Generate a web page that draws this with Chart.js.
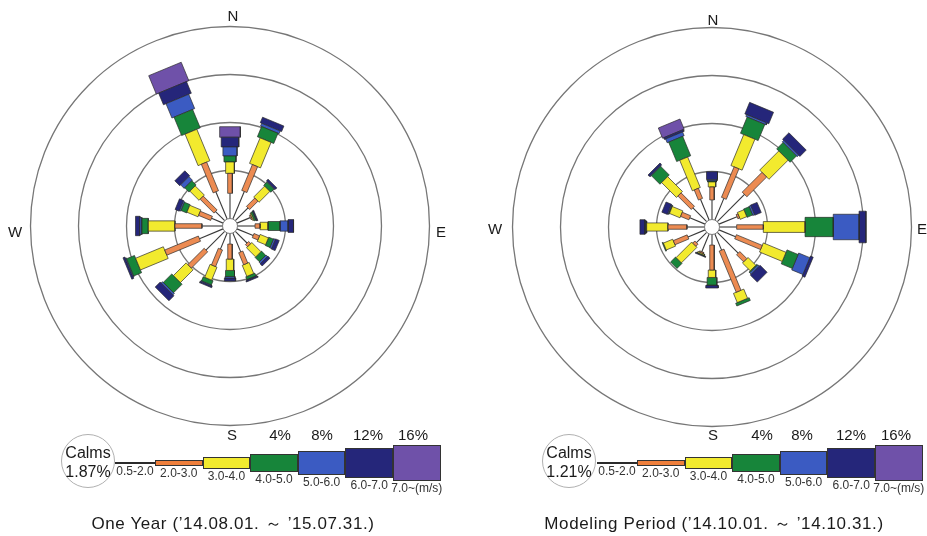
<!DOCTYPE html>
<html>
<head>
<meta charset="utf-8">
<script src="https://cdn.jsdelivr.net/npm/chart.js@4.4.1/dist/chart.umd.min.js"></script>
<style>
  body { margin: 0; background: #fff; font-family: "Liberation Sans", Arial, Helvetica, sans-serif; }
  #page { position: relative; width: 927px; height: 536px; overflow: hidden; background: #fff; }
  canvas.rose { position: absolute; top: 0; }
  .lbl { position: absolute; transform: translate(-50%, -50%); white-space: nowrap; color: #1a1a1a; line-height: 1; }
  .dir, .pct { font-size: 15px; }
  .cls { font-size: 12px; color: #333; }
  .cap { font-size: 17px; letter-spacing: 0.6px; }
  .calm { position: absolute; border: 1.5px solid #b0b0b0; border-radius: 50%; box-sizing: border-box; }
  .calmtxt { font-size: 16px; }
  .lgbox { position: absolute; border: 1px solid #333; box-sizing: border-box; }
</style>
</head>
<body>
<div id="page"></div>
<script>
// 16 directions, clockwise from north
const directions = ['N','NNE','NE','ENE','E','ESE','SE','SSE','S','SSW','SW','WSW','W','WNW','NW','NNW'];
const speedClasses = ['0.5-2.0', '2.0-3.0', '3.0-4.0', '4.0-5.0', '5.0-6.0', '6.0-7.0', '7.0~(m/s)'];
const ringTicks = [4, 8, 12, 16];

// One Year ('14.08.01. ~ '15.07.31.) - frequency (%) per direction
const yearCalms = 1.87;
const year05_20 = [2.10, 2.49, 1.50, 1.20, 1.46, 1.46, 1.38, 1.71, 0.88, 1.46, 2.21, 2.13, 1.71, 1.04, 1.08, 2.46];
const year20_30 = [1.66, 2.33, 0.98, 0.10, 0.42, 0.50, 0.25, 1.08, 1.25, 1.50, 1.92, 3.04, 2.25, 1.09, 1.63, 2.58];
const year30_40 = [0.95, 2.30, 1.28, 0.10, 0.66, 0.75, 1.08, 1.00, 0.95, 1.17, 1.50, 2.50, 2.22, 1.00, 1.08, 2.84];
const year40_50 = [0.50, 0.92, 0.37, 0.15, 1.00, 0.42, 0.50, 0.25, 0.50, 0.37, 1.00, 0.71, 0.53, 0.50, 0.50, 1.66];
const year50_60 = [0.75, 0.25, 0.08, 0.05, 0.67, 0.16, 0.17, 0.05, 0.13, 0.08, 0.16, 0.08, 0.17, 0.12, 0.42, 1.29];
const year60_70 = [0.81, 0.50, 0.17, 0.10, 0.46, 0.34, 0.25, 0.12, 0.25, 0.13, 0.59, 0.17, 0.37, 0.38, 0.58, 1.05];
const year70_up = [0.88, 0, 0, 0, 0, 0, 0, 0, 0, 0, 0, 0, 0, 0, 0, 1.66];

// Modeling Period ('14.10.01. ~ '14.10.31.)
const modelCalms = 1.21;
const model05_20 = [1.63, 1.96, 3.21, 1.63, 1.43, 1.50, 2.46, 1.46, 0.88, 1.60, 1.21, 1.54, 1.46, 1.38, 1.63, 1.88];
const model20_30 = [1.08, 2.75, 2.33, 0.16, 2.22, 2.33, 0.83, 3.71, 2.08, 0.10, 0.25, 1.25, 1.58, 0.75, 1.58, 0.91];
const model30_40 = [0.42, 2.79, 2.25, 0.59, 3.48, 2.05, 0.92, 0.83, 0.62, 0.10, 1.83, 0.84, 1.78, 0.95, 1.75, 2.75];
const model40_50 = [0.08, 1.46, 0.75, 0.50, 2.35, 1.00, 0.08, 0.25, 0.63, 0.05, 0.59, 0.08, 0.06, 0.05, 1.00, 1.75];
const model50_60 = [0.12, 0.17, 0.17, 0.16, 2.15, 1.00, 0.17, 0, 0.04, 0, 0, 0, 0.08, 0.08, 0.08, 0.34];
const model60_70 = [0.65, 1.04, 0.75, 0.59, 0.58, 0.25, 0.83, 0, 0.21, 0.07, 0, 0, 0.42, 0.50, 0.17, 0.16];
const model70_up = [0, 0, 0, 0, 0, 0, 0, 0, 0, 0, 0, 0, 0, 0, 0, 0.92];

// look
const classColors = ['#2b2b2b', '#EE7F3C', '#F2EA2E', '#17853A', '#3B5BC2', '#25267A', '#6F51A9'];
const roseOrange = '#EC8B52';
const classSpread = [0, 0.11, 0.15, 0.18, 0.19, 0.21, 0.22];  // bar width per unit radius
const classMinW = [0, 4.5, 7.5, 9, 10, 11, 12];                 // px
const legendHeights = [2, 6.5, 12, 18, 23.5, 29.5, 36];
const PX = 12;          // pixels per 1 %
const CALM_R = 0.625;   // calm circle radius in % units

const panels = [
  {
    series: [year05_20, year20_30, year30_40, year40_50, year50_60, year60_70, year70_up],
    calms: yearCalms,
    caption: 'One Year (\u201914.08.01. \uFF5E \u201915.07.31.)',
    left: 0, width: 463, height: 452, cx: 230, cy: 226,
    dirPos: { N: [233, 15], W: [15, 231], E: [441, 231], S: [232, 434] },
    pctX: [280, 322, 368, 413],
    legendX: 115, calmX: 88, capX: 233
  },
  {
    series: [model05_20, model20_30, model30_40, model40_50, model50_60, model60_70, model70_up],
    calms: modelCalms,
    caption: 'Modeling Period (\u201914.10.01. \uFF5E \u201914.10.31.)',
    left: 463, width: 464, height: 452, cx: 249, cy: 227,
    dirPos: { N: [713, 19], W: [495, 228], E: [922, 228], S: [713, 434] },
    pctX: [762, 802, 851, 896],
    legendX: 597, calmX: 569, capX: 714
  }
];

const page = document.getElementById('page');

function addLabel(text, x, y, cls) {
  const s = document.createElement('span');
  s.className = 'lbl ' + cls;
  s.textContent = text;
  s.style.left = x + 'px';
  s.style.top = y + 'px';
  page.appendChild(s);
  return s;
}

// rings + calm circle, drawn through the chart scales
const roseGrid = {
  id: 'roseGrid',
  beforeDatasetsDraw(chart) {
    const { ctx, scales: { x, y } } = chart;
    const ox = x.getPixelForValue(0), oy = y.getPixelForValue(0);
    ctx.save();
    ctx.strokeStyle = '#767676';
    ctx.lineWidth = 1.3;
    ringTicks.forEach(t => {
      const r = x.getPixelForValue(CALM_R + t) - ox;
      ctx.beginPath();
      ctx.arc(ox, oy, r, 0, Math.PI * 2);
      ctx.stroke();
    });
    ctx.restore();
  },
  afterDatasetsDraw(chart) {
    const { ctx, scales: { x, y } } = chart;
    const ox = x.getPixelForValue(0), oy = y.getPixelForValue(0);
    const r = x.getPixelForValue(CALM_R) - ox;
    ctx.save();
    ctx.fillStyle = '#fff';
    ctx.strokeStyle = '#777';
    ctx.lineWidth = 1;
    ctx.beginPath();
    ctx.arc(ox, oy, r, 0, Math.PI * 2);
    ctx.fill();
    ctx.stroke();
    ctx.restore();
  }
};

function buildDatasets(series) {
  const sets = [];
  directions.forEach((d, i) => {
    const ang = i * Math.PI / 8;
    const ux = Math.sin(ang), uy = Math.cos(ang);    // along the bar
    const nx = Math.cos(ang), ny = -Math.sin(ang);   // across the bar
    let r0 = CALM_R;
    series.forEach((vals, k) => {
      const v = vals[i];
      if (!v) return;
      const r1 = r0 + v;
      if (k === 0) {
        sets.push({
          data: [{ x: r0 * ux, y: r0 * uy }, { x: r1 * ux, y: r1 * uy }],
          showLine: true, fill: false, borderColor: '#3a3a3a', borderWidth: 1.1,
          pointRadius: 0
        });
      } else {
        const h = Math.max(classSpread[k] * (r0 + r1) / 2, classMinW[k] / PX) / 2;
        const corner = (r, s) => ({ x: r * ux + s * h * nx, y: r * uy + s * h * ny });
        sets.push({
          data: [corner(r0, -1), corner(r1, -1), corner(r1, 1), corner(r0, 1), corner(r0, -1)],
          showLine: true, fill: 'shape', backgroundColor: k === 1 ? roseOrange : classColors[k],
          borderColor: 'rgba(40,40,40,0.85)', borderWidth: 0.8,
          pointRadius: 0, tension: 0
        });
      }
      r0 = r1;
    });
  });
  return sets;
}

panels.forEach(p => {
  const cv = document.createElement('canvas');
  cv.className = 'rose';
  cv.width = p.width;
  cv.height = p.height;
  cv.style.left = p.left + 'px';
  page.appendChild(cv);

  new Chart(cv.getContext('2d'), {
    type: 'scatter',
    data: { datasets: buildDatasets(p.series) },
    options: {
      responsive: false,
      animation: false,
      events: [],
      layout: { padding: 0 },
      plugins: { legend: { display: false }, tooltip: { enabled: false } },
      scales: {
        x: { type: 'linear', display: false, bounds: 'data', min: -p.cx / PX, max: (p.width - p.cx) / PX },
        y: { type: 'linear', display: false, bounds: 'data', min: -(p.height - p.cy) / PX, max: p.cy / PX }
      }
    },
    plugins: [roseGrid]
  });

  // compass letters and ring labels
  Object.keys(p.dirPos).forEach(k => addLabel(k, p.dirPos[k][0], p.dirPos[k][1], 'dir'));
  ringTicks.forEach((t, i) => addLabel(t + '%', p.pctX[i], 434, 'pct'));

  // legend
  const cy = 463;
  const calm = document.createElement('div');
  calm.className = 'calm';
  calm.style.left = (p.calmX - 27) + 'px';
  calm.style.top = (461 - 27) + 'px';
  calm.style.width = '54px';
  calm.style.height = '54px';
  page.appendChild(calm);
  addLabel('Calms', p.calmX, 453, 'calmtxt');
  addLabel(p.calms.toFixed(2) + '%', p.calmX, 472, 'calmtxt');

  let x = p.legendX;
  speedClasses.forEach((c, k) => {
    const w = k === 0 ? 40 : 47.6;
    const h = legendHeights[k];
    const b = document.createElement('div');
    b.className = 'lgbox';
    b.style.left = x + 'px';
    b.style.width = w + 'px';
    b.style.top = (cy - h / 2) + 'px';
    b.style.height = h + 'px';
    b.style.background = classColors[k];
    if (k === 0) b.style.border = 'none';
    page.appendChild(b);
    addLabel(c, x + w / 2, cy + h / 2 + 7, 'cls');
    x += w;
  });

  addLabel(p.caption, p.capX, 523, 'cap');
});
</script>
</body>
</html>
